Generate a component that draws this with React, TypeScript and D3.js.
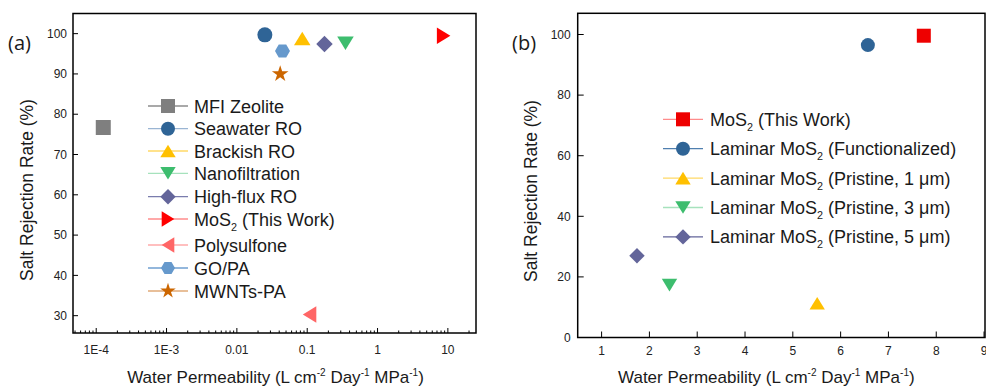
import * as d3 from "d3";

// ---- panel (a) data ----
const seriesA = [
  "MFI Zeolite",
  "Seawater RO",
  "Brackish RO",
  "Nanofiltration",
  "High-flux RO",
  "MoS2 (This Work)",
  "Polysulfone",
  "GO/PA",
  "MWNTs-PA",
];
const permA = [1.26e-4, 0.025, 0.085, 0.35, 0.176, 8.7, 0.108, 0.0445, 0.0413];
const rejA = [76.7, 99.7, 98.8, 97.6, 97.4, 99.5, 30.3, 95.7, 90.0];
const shapesA = ["square", "circle", "triUp", "triDown", "diamond", "triRight", "triLeft", "hexagon", "star"];
const colorsA = ["#7f7f7f", "#2f6496", "#ffc000", "#3dbd6e", "#63659a", "#ff0000", "#ff6666", "#6699cc", "#cc6600"];
const lineColorsA = ["#8c8c8c", "#9ab5d3", "#ffd966", "#a6e2bd", "#7a7cad", "#ff8c8c", "#ffaaaa", "#6f9fd0", "#e0aa77"];
const yTicksA = [30, 40, 50, 60, 70, 80, 90, 100];
const xTicksA = [1e-4, 1e-3, 0.01, 0.1, 1, 10];
const xTickLabelsA = ["1E-4", "1E-3", "0.01", "0.1", "1", "10"];

// ---- panel (b) data ----
const seriesB = [
  "MoS2 (This Work)",
  "Laminar MoS2 (Functionalized)",
  "Laminar MoS2 (Pristine, 1 \u03bcm)",
  "Laminar MoS2 (Pristine, 3 \u03bcm)",
  "Laminar MoS2 (Pristine, 5 \u03bcm)",
];
const permB = [7.74, 6.57, 5.51, 2.42, 1.74];
const rejB = [99.6, 96.5, 11.3, 17.3, 27.0];
const shapesB = ["square", "circle", "triUp", "triDown", "diamond"];
const colorsB = ["#ee0000", "#2f6496", "#ffc000", "#3dbd6e", "#63659a"];
const lineColorsB = ["#ff8c8c", "#4f7faf", "#ffd966", "#a6e2bd", "#63659a"];
const yTicksB = [0, 20, 40, 60, 80, 100];
const xTicksB = [1, 2, 3, 4, 5, 6, 7, 8, 9];

const FONT = "'Liberation Sans', Arial, sans-serif";

function markerPath(shape: string, s: number): string {
  const h = s / 2;
  switch (shape) {
    case "square":
      return `M${-h},${-h}H${h}V${h}H${-h}Z`;
    case "circle":
      return d3.symbol(d3.symbolCircle, Math.PI * h * h)() as string;
    case "triUp":
      return `M0,${-h * 0.9}L${h * 1.1},${h * 0.9}L${-h * 1.1},${h * 0.9}Z`;
    case "triDown":
      return `M0,${h * 0.9}L${h * 1.1},${-h * 0.9}L${-h * 1.1},${-h * 0.9}Z`;
    case "triRight":
      return `M${h * 0.9},0L${-h * 0.9},${h * 1.1}L${-h * 0.9},${-h * 1.1}Z`;
    case "triLeft":
      return `M${-h * 0.9},0L${h * 0.9},${h * 1.1}L${h * 0.9},${-h * 1.1}Z`;
    case "diamond":
      return `M0,${-h * 1.1}L${h * 1.1},0L0,${h * 1.1}L${-h * 1.1},0Z`;
    case "hexagon": {
      const pts = d3.range(6).map((i) => {
        const a = (Math.PI / 3) * i;
        return [h * Math.cos(a), h * Math.sin(a)];
      });
      return "M" + pts.map((p) => p.join(",")).join("L") + "Z";
    }
    case "star":
      return d3.symbol(d3.symbolStar, s * s * 0.38)() as string;
  }
  return "";
}

function Label({ text, x, y, size }: { text: string; x: number; y: number; size: number }) {
  // render "MoS2" with subscript 2
  const parts = text.split("MoS2");
  const out: any[] = [];
  parts.forEach((p, i) => {
    if (i > 0) {
      out.push(<tspan key={"m" + i}>MoS</tspan>);
      out.push(
        <tspan key={"s" + i} fontSize={size * 0.6} dy={5}>
          2
        </tspan>
      );
      out.push(
        <tspan key={"r" + i} dy={-5}>
          {p}
        </tspan>
      );
    } else if (p) out.push(<tspan key={"p" + i}>{p}</tspan>);
  });
  return (
    <text x={x} y={y} fontSize={size} fontFamily={FONT} fill="#1a1a1a">
      {out}
    </text>
  );
}

function XTitle({ cx, y }: { cx: number; y: number }) {
  return (
    <text x={cx} y={y} textAnchor="middle" fontSize={17} fontFamily={FONT} fill="#1a1a1a">
      Water Permeability (L cm
      <tspan fontSize={10} dy={-7}>-2</tspan>
      <tspan dy={7}> Day</tspan>
      <tspan fontSize={10} dy={-7}>-1</tspan>
      <tspan dy={7}> MPa</tspan>
      <tspan fontSize={10} dy={-7}>-1</tspan>
      <tspan dy={7}>)</tspan>
    </text>
  );
}

function YTitle({ x, cy }: { x: number; cy: number }) {
  return (
    <text
      transform={`translate(${x},${cy}) rotate(-90)`}
      textAnchor="middle"
      fontSize={17.5}
      fontFamily={FONT}
      fill="#1a1a1a"
    >
      Salt Rejection Rate (%)
    </text>
  );
}

export default function App() {
  // panel (a)
  const aL = 73, aR = 476, aT = 13.5, aB = 333;
  const xA = d3.scaleLog().domain([Math.pow(10, -4.33), Math.pow(10, 1.4)]).range([aL, aR]);
  const yA = d3.scaleLinear().domain([25.7, 105]).range([aB, aT]);
  const minorA: number[] = [];
  for (let e = -5; e <= 1; e++) {
    for (let m = 2; m <= 9; m++) {
      const v = m * Math.pow(10, e);
      if (v > xA.domain()[0] && v < xA.domain()[1]) minorA.push(v);
    }
  }
  const legA = { x1: 148, x2: 188, tx: 194, rows: [106, 128.7, 151, 173.3, 196.7, 219, 245, 268, 291] };

  // panel (b)
  const bL = 577.7, bR = 985, bT = 13.3, bB = 337.5;
  const xB = d3.scaleLinear().domain([0.5, 9.02]).range([bL, bR]);
  const yB = d3.scaleLinear().domain([0, 107]).range([bB, bT]);
  const legB = { x1: 663, x2: 703, tx: 710, y0: 119.3, dy: 29.4 };

  return (
    <svg
      width={986}
      height={387}
      style={{ position: "absolute", left: 0, top: 0, background: "#fff" }}
    >
      <rect width={986} height={387} fill="#fff" />

      {/* ---------- panel (a) ---------- */}
      <text x={8} y={50} fontSize={20} fontFamily="'Open Sans', sans-serif" fill="#1a1a1a">
        (a)
      </text>
      <rect x={aL} y={aT} width={aR - aL} height={aB - aT} fill="none" stroke="#000" strokeWidth={1.5} />
      {yTicksA.map((t) => (
        <g key={"ya" + t}>
          <line x1={aL} x2={aL + 5} y1={yA(t)} y2={yA(t)} stroke="#000" strokeWidth={1} />
          <text x={aL - 6} y={yA(t)} dy="0.35em" textAnchor="end" fontSize={12} fontFamily={FONT} fill="#222">
            {t}
          </text>
        </g>
      ))}
      {xTicksA.map((t, i) => (
        <g key={"xa" + t}>
          <line x1={xA(t)} x2={xA(t)} y1={aB} y2={aB - 5} stroke="#000" strokeWidth={1} />
          <text x={xA(t)} y={354} textAnchor="middle" fontSize={12} fontFamily={FONT} fill="#222">
            {xTickLabelsA[i]}
          </text>
        </g>
      ))}
      {minorA.map((t) => (
        <line key={"ma" + t} x1={xA(t)} x2={xA(t)} y1={aB} y2={aB - 2.5} stroke="#000" strokeWidth={1} />
      ))}
      <XTitle cx={(aL + aR) / 2 + 1} y={382.5} />
      <YTitle x={33} cy={190} />

      {seriesA.map((name, i) => (
        <path
          key={"pa" + name}
          d={markerPath(shapesA[i], 15)}
          transform={`translate(${xA(permA[i])},${yA(rejA[i])})`}
          fill={colorsA[i]}
        />
      ))}
      {seriesA.map((name, i) => (
        <g key={"la" + name}>
          <line x1={legA.x1} x2={legA.x2} y1={legA.rows[i]} y2={legA.rows[i]} stroke={lineColorsA[i]} strokeWidth={1.3} />
          <path
            d={markerPath(shapesA[i], 14)}
            transform={`translate(${(legA.x1 + legA.x2) / 2},${legA.rows[i]})`}
            fill={colorsA[i]}
          />
          <Label text={name} x={legA.tx} y={legA.rows[i] + 6.5} size={18} />
        </g>
      ))}

      {/* ---------- panel (b) ---------- */}
      <text x={512} y={50} fontSize={20} fontFamily="'Open Sans', sans-serif" fill="#1a1a1a">
        (b)
      </text>
      <rect x={bL} y={bT} width={bR - bL} height={bB - bT} fill="none" stroke="#000" strokeWidth={1.5} />
      {yTicksB.map((t) => (
        <g key={"yb" + t}>
          <line x1={bL} x2={bL + 6} y1={yB(t)} y2={yB(t)} stroke="#000" strokeWidth={1} />
          <text x={bL - 7} y={yB(t)} dy="0.35em" textAnchor="end" fontSize={12} fontFamily={FONT} fill="#222">
            {t}
          </text>
        </g>
      ))}
      {xTicksB.map((t) => (
        <g key={"xb" + t}>
          <line x1={xB(t)} x2={xB(t)} y1={bB} y2={bB - 6} stroke="#000" strokeWidth={1} />
          <text x={xB(t)} y={355} textAnchor="middle" fontSize={12} fontFamily={FONT} fill="#222">
            {t}
          </text>
        </g>
      ))}
      <XTitle cx={(bL + bR) / 2 - 15} y={382.5} />
      <YTitle x={537} cy={191} />

      {seriesB.map((name, i) => (
        <path
          key={"pb" + name}
          d={markerPath(shapesB[i], 14)}
          transform={`translate(${xB(permB[i])},${yB(rejB[i])})`}
          fill={colorsB[i]}
        />
      ))}
      {seriesB.map((name, i) => {
        const y = legB.y0 + i * legB.dy;
        return (
          <g key={"lb" + name}>
            <line x1={legB.x1} x2={legB.x2} y1={y} y2={y} stroke={lineColorsB[i]} strokeWidth={1.3} />
            <path
              d={markerPath(shapesB[i], 14)}
              transform={`translate(${(legB.x1 + legB.x2) / 2},${y})`}
              fill={colorsB[i]}
            />
            <Label text={name} x={legB.tx} y={y + 6.5} size={18} />
          </g>
        );
      })}
    </svg>
  );
}
